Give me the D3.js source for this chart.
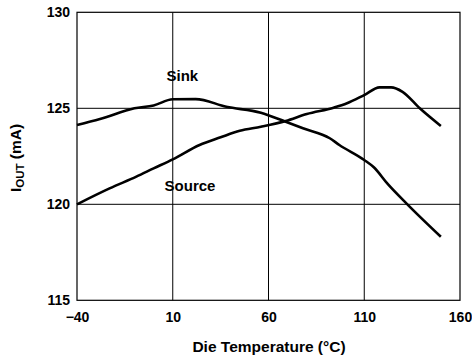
<!DOCTYPE html>
<html><head><meta charset="utf-8">
<script src="https://cdn.jsdelivr.net/npm/d3@7"></script>
<style>
body{margin:0;background:#fff;}
text{font-family:"Liberation Sans",Arial,sans-serif;font-weight:bold;fill:#000;}
</style></head>
<body><svg id="c" width="472" height="362"></svg>
<script>
const xTicks = [-40, 10, 60, 110, 160];
const yTicks = [115, 120, 125, 130];
const sinkT = [-40, -28, -10, 0, 10, 22, 38, 56, 69, 78, 92, 97, 110, 115, 122, 132, 150];
const sinkI = [124.13, 124.44, 125.0, 125.15, 125.47, 125.48, 125.08, 124.77, 124.3, 123.96, 123.44, 123.09, 122.31, 121.93, 121.09, 120.05, 118.31];
const sourceT = [-40, -23, -9, 0, 10, 24, 35, 45, 56, 69, 80, 94, 101, 110, 118, 124, 130, 139, 150];
const sourceI = [120.0, 120.83, 121.44, 121.87, 122.34, 123.09, 123.49, 123.83, 124.04, 124.34, 124.7, 125.03, 125.26, 125.69, 126.09, 126.09, 125.86, 125.0, 124.08];
const seriesLabels = [{name:"Sink", t:15, v:126.7}, {name:"Source", t:19, v:121.0}];

const svg = d3.select("#c");
const x = d3.scaleLinear().domain([-40,160]).range([77,460]);
const y = d3.scaleLinear().domain([115,130]).range([300.3,12.3]);

// grid
svg.append("g").selectAll("line").data(xTicks.slice(1,-1)).join("line")
  .attr("x1",d=>x(d)).attr("x2",d=>x(d)).attr("y1",y(130)).attr("y2",y(115))
  .attr("stroke","#000").attr("stroke-width",1);
svg.append("g").selectAll("line").data(yTicks.slice(1,-1)).join("line")
  .attr("x1",x(-40)).attr("x2",x(160)).attr("y1",d=>y(d)).attr("y2",d=>y(d))
  .attr("stroke","#000").attr("stroke-width",1);
svg.append("rect").attr("x",x(-40)).attr("y",y(130)).attr("width",x(160)-x(-40)).attr("height",y(115)-y(130))
  .attr("fill","none").attr("stroke","#000").attr("stroke-width",1.2);

// axes labels
const xAxis = d3.axisBottom(x).tickValues(xTicks).tickSize(0).tickPadding(12).tickFormat(d3.format("d"));
const gx = svg.append("g").attr("transform",`translate(0,${y(115)})`).call(xAxis);
gx.select(".domain").remove();
gx.selectAll("text").style("font-size","14px").style("font-family","Liberation Sans, Arial, sans-serif").style("font-weight","bold");
const yAxis = d3.axisLeft(y).tickValues(yTicks).tickSize(0).tickPadding(7).tickFormat(d3.format("d"));
const gy = svg.append("g").attr("transform",`translate(${x(-40)},0)`).call(yAxis);
gy.select(".domain").remove();
gy.selectAll("text").style("font-size","14px").style("font-family","Liberation Sans, Arial, sans-serif").style("font-weight","bold");

// lines
const line = d3.line().x(d=>x(d[0])).y(d=>y(d[1])).curve(d3.curveMonotoneX);
[[sinkT,sinkI],[sourceT,sourceI]].forEach(([t,v])=>{
  svg.append("path").attr("d",line(t.map((d,i)=>[d,v[i]])))
    .attr("fill","none").attr("stroke","#000").attr("stroke-width",2.6).attr("stroke-linejoin","round");
});

svg.append("g").selectAll("text").data(seriesLabels).join("text")
  .attr("x",d=>x(d.t)).attr("y",d=>y(d.v)).attr("text-anchor","middle").attr("dominant-baseline","central")
  .style("font-size","15px").text(d=>d.name);

svg.append("text").attr("x",269).attr("y",352).attr("text-anchor","middle").style("font-size","15.5px").text("Die Temperature (°C)");

const yl = svg.append("text").attr("transform","translate(21,158) rotate(-90)").attr("text-anchor","middle").style("font-size","15.5px");
yl.append("tspan").text("I");
yl.append("tspan").attr("dy",3).style("font-size","11.5px").text("OUT");
yl.append("tspan").attr("dy",-3).text(" (mA)");
</script></body></html>
